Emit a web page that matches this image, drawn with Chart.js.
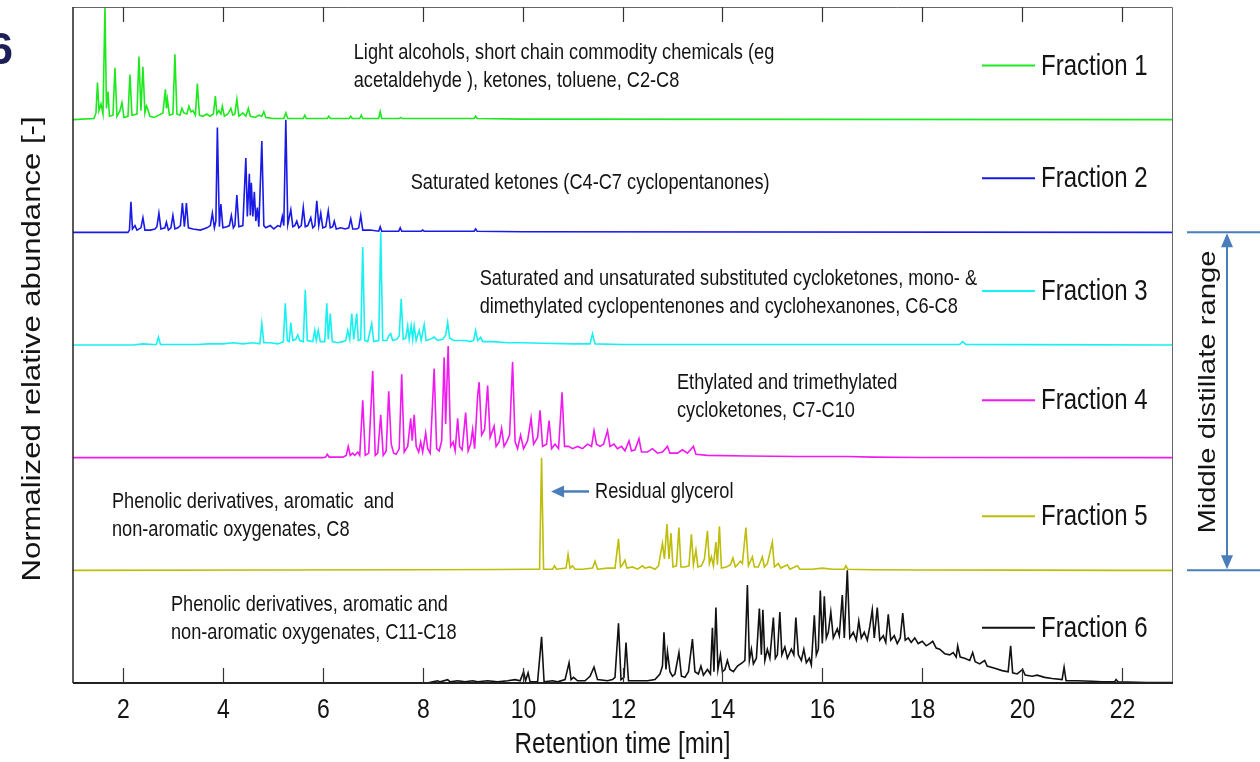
<!DOCTYPE html>
<html>
<head>
<meta charset="utf-8">
<script src="https://cdn.jsdelivr.net/npm/chart.js@4.4.1/dist/chart.umd.min.js"></script>
<style>
  html, body { margin: 0; padding: 0; background: #fff; }
  canvas { display: block; }
</style>
</head>
<body>
<canvas id="chromChart" width="1260" height="762"></canvas>
<script>
// retention time [min] / normalized abundance pairs
const fraction1 = [
  [1.0,0],[1.42,0.01],[1.46,0.06],[1.49,0.33],[1.52,0.08],[1.56,0.14],[1.60,0.05],[1.64,1.0],[1.67,0.10],[1.70,0.25],
  [1.73,0.03],[1.80,0.04],[1.84,0.46],[1.88,0.03],[1.94,0.08],[1.98,0.15],[2.02,0.02],[2.10,0.03],[2.14,0.40],[2.18,0.04],
  [2.28,0.05],[2.32,0.56],[2.36,0.08],[2.40,0.47],[2.44,0.06],[2.47,0.12],[2.50,0.09],[2.54,0.03],[2.62,0.02],[2.72,0.04],
  [2.80,0.06],[2.85,0.27],[2.87,0.10],[2.89,0.18],[2.93,0.04],[3.00,0.05],[3.04,0.58],[3.08,0.05],[3.14,0.04],[3.18,0.10],
  [3.22,0.06],[3.28,0.05],[3.32,0.12],[3.36,0.07],[3.40,0.08],[3.45,0.04],[3.49,0.32],[3.53,0.04],[3.60,0.03],[3.68,0.05],
  [3.74,0.03],[3.81,0.05],[3.85,0.21],[3.88,0.05],[3.92,0.08],[3.96,0.05],[3.99,0.12],[4.03,0.03],[4.10,0.05],[4.16,0.10],
  [4.20,0.04],[4.24,0.05],[4.28,0.18],[4.32,0.03],[4.40,0.06],[4.46,0.03],[4.51,0.10],[4.55,0.03],[4.65,0.02],[4.72,0.04],
  [4.78,0.03],[4.82,0.07],[4.86,0.02],[5.0,0.01],[5.22,0.01],[5.26,0.06],[5.30,0.01],[5.45,0.01],[5.61,0.01],[5.64,0.04],
  [5.67,0.01],[5.9,0.01],[6.09,0.01],[6.12,0.03],[6.15,0.01],[6.40,0.01],[6.53,0.01],[6.56,0.03],[6.59,0.01],[6.74,0.01],
  [6.77,0.04],[6.80,0.01],[7.12,0.01],[7.15,0.07],[7.18,0.01],[7.53,0.01],[7.56,0.02],[7.59,0.01],[8.0,0.01],[9.03,0.01],
  [9.06,0.03],[9.09,0.01],[10.0,0.005],[23.0,0]
];
const fraction2 = [
  [1.0,0],[2.10,0],[2.13,0.02],[2.16,0.27],[2.19,0.03],[2.24,0.06],[2.28,0.02],[2.36,0.04],[2.40,0.13],[2.44,0.02],
  [2.55,0.02],[2.64,0.03],[2.68,0.05],[2.72,0.17],[2.76,0.03],[2.84,0.04],[2.87,0.09],[2.91,0.02],[2.96,0.04],[3.00,0.15],
  [3.04,0.03],[3.10,0.04],[3.15,0.06],[3.19,0.26],[3.23,0.05],[3.27,0.26],[3.31,0.04],[3.40,0.03],[3.55,0.02],[3.68,0.04],
  [3.75,0.06],[3.79,0.17],[3.83,0.04],[3.86,0.10],[3.89,0.93],[3.93,0.05],[3.96,0.25],[4.00,0.04],[4.08,0.05],[4.13,0.06],
  [4.17,0.15],[4.21,0.04],[4.24,0.06],[4.28,0.33],[4.32,0.05],[4.40,0.06],[4.46,0.66],[4.49,0.14],[4.53,0.52],[4.55,0.15],
  [4.57,0.44],[4.60,0.14],[4.63,0.36],[4.66,0.10],[4.69,0.22],[4.72,0.05],[4.78,0.81],[4.82,0.06],[4.86,0.04],[4.95,0.06],
  [5.02,0.03],[5.10,0.06],[5.15,0.05],[5.19,0.14],[5.22,0.06],[5.26,1.0],[5.30,0.07],[5.36,0.20],[5.40,0.05],[5.44,0.06],
  [5.48,0.10],[5.52,0.04],[5.57,0.06],[5.61,0.22],[5.65,0.05],[5.70,0.06],[5.76,0.13],[5.80,0.04],[5.84,0.06],[5.88,0.28],
  [5.92,0.06],[5.96,0.17],[6.00,0.04],[6.06,0.05],[6.11,0.19],[6.15,0.04],[6.20,0.05],[6.23,0.10],[6.27,0.03],[6.36,0.04],
  [6.45,0.03],[6.52,0.04],[6.56,0.12],[6.60,0.03],[6.68,0.03],[6.72,0.04],[6.76,0.15],[6.80,0.02],[6.95,0.02],[7.12,0.01],
  [7.15,0.05],[7.18,0.01],[7.35,0.01],[7.52,0.01],[7.55,0.04],[7.58,0.01],[7.97,0.01],[8.0,0.02],[8.03,0.01],[9.03,0.01],
  [9.06,0.03],[9.09,0.01],[10.0,0.005],[23.0,0]
];
const fraction3 = [
  [1.0,0],[2.2,0],[2.4,0.01],[2.6,0.005],[2.67,0.005],[2.71,0.07],[2.75,0.005],[3.5,0.005],[3.7,0.01],[4.0,0.01],
  [4.2,0.02],[4.4,0.01],[4.6,0.02],[4.74,0.01],[4.78,0.19],[4.82,0.02],[4.95,0.02],[5.10,0.01],[5.21,0.03],[5.25,0.37],
  [5.29,0.04],[5.33,0.03],[5.36,0.20],[5.40,0.04],[5.46,0.05],[5.50,0.09],[5.54,0.04],[5.61,0.03],[5.65,0.49],[5.69,0.04],
  [5.80,0.03],[5.84,0.13],[5.87,0.04],[5.91,0.13],[5.95,0.03],[6.04,0.03],[6.08,0.37],[6.11,0.05],[6.15,0.28],[6.19,0.03],
  [6.30,0.02],[6.40,0.03],[6.46,0.04],[6.50,0.13],[6.54,0.05],[6.58,0.28],[6.62,0.05],[6.68,0.28],[6.71,0.04],[6.76,0.05],
  [6.80,0.87],[6.84,0.04],[6.90,0.03],[6.98,0.19],[7.02,0.03],[7.12,0.04],[7.16,1.0],[7.20,0.04],[7.28,0.04],[7.32,0.08],
  [7.36,0.10],[7.40,0.04],[7.48,0.05],[7.53,0.08],[7.57,0.41],[7.61,0.05],[7.66,0.06],[7.70,0.17],[7.73,0.05],[7.77,0.17],
  [7.80,0.05],[7.83,0.17],[7.87,0.04],[7.93,0.13],[7.97,0.04],[8.03,0.18],[8.07,0.04],[8.15,0.05],[8.23,0.07],[8.30,0.04],
  [8.40,0.05],[8.46,0.09],[8.50,0.20],[8.54,0.06],[8.62,0.04],[8.75,0.04],[8.86,0.04],[8.95,0.03],[9.02,0.04],[9.06,0.13],
  [9.10,0.04],[9.16,0.07],[9.20,0.03],[9.40,0.03],[9.7,0.02],[10.0,0.02],[10.4,0.015],[11.0,0.01],[11.35,0.01],[11.40,0.10],
  [11.45,0.01],[12.0,0.005],[15.0,0.005],[16.5,0.005],[18.75,0.005],[18.81,0.03],[18.87,0.005],[20.0,0.003],[23.0,0]
];
const fraction4 = [
  [1.0,0],[6.0,0],[6.06,0.005],[6.09,0.03],[6.13,0.005],[6.40,0.005],[6.47,0.02],[6.51,0.10],[6.55,0.02],[6.60,0.04],
  [6.64,0.02],[6.70,0.05],[6.74,0.02],[6.80,0.51],[6.85,0.02],[6.92,0.04],[7.00,0.77],[7.05,0.02],[7.10,0.04],[7.16,0.38],
  [7.21,0.02],[7.27,0.06],[7.32,0.59],[7.37,0.12],[7.42,0.04],[7.47,0.03],[7.53,0.08],[7.58,0.74],[7.63,0.05],[7.70,0.10],
  [7.76,0.35],[7.79,0.15],[7.83,0.38],[7.87,0.10],[7.92,0.05],[7.96,0.14],[8.00,0.05],[8.06,0.22],[8.10,0.08],[8.15,0.04],
  [8.23,0.79],[8.28,0.08],[8.33,0.06],[8.38,0.15],[8.43,0.89],[8.46,0.30],[8.51,0.99],[8.56,0.10],[8.61,0.14],[8.65,0.06],
  [8.70,0.35],[8.74,0.10],[8.79,0.07],[8.86,0.40],[8.91,0.06],[8.96,0.12],[9.00,0.25],[9.04,0.08],[9.10,0.55],[9.13,0.67],
  [9.18,0.20],[9.24,0.25],[9.30,0.64],[9.35,0.18],[9.43,0.28],[9.47,0.10],[9.53,0.14],[9.58,0.26],[9.63,0.10],[9.68,0.14],
  [9.74,0.20],[9.80,0.85],[9.85,0.14],[9.90,0.08],[9.96,0.20],[10.02,0.08],[10.10,0.15],[10.17,0.35],[10.22,0.12],[10.30,0.18],
  [10.35,0.42],[10.40,0.10],[10.48,0.12],[10.53,0.33],[10.58,0.08],[10.65,0.12],[10.72,0.08],[10.79,0.58],[10.84,0.10],[10.92,0.10],
  [11.00,0.08],[11.10,0.10],[11.20,0.08],[11.30,0.12],[11.38,0.10],[11.43,0.24],[11.48,0.12],[11.55,0.10],[11.62,0.12],[11.70,0.24],
  [11.75,0.10],[11.83,0.12],[11.90,0.08],[11.98,0.10],[12.05,0.06],[12.13,0.15],[12.18,0.06],[12.25,0.07],[12.33,0.17],[12.38,0.05],
  [12.50,0.05],[12.60,0.08],[12.70,0.04],[12.80,0.05],[12.90,0.10],[12.95,0.04],[13.10,0.04],[13.20,0.07],[13.30,0.04],[13.42,0.10],
  [13.47,0.03],[13.7,0.02],[14.5,0.015],[15.5,0.01],[16.5,0.01],[17.0,0.005],[18.0,0.002],[23.0,0]
];
const fraction5 = [
  [1.0,0],[5.0,0.003],[8.0,0.005],[9.5,0.008],[10.2,0.01],[10.34,0.01],[10.38,1.0],[10.42,0.01],[10.60,0.01],[10.64,0.04],
  [10.68,0.01],[10.87,0.02],[10.91,0.14],[10.95,0.02],[11.0,0.04],[11.05,0.01],[11.20,0.01],[11.40,0.02],[11.45,0.08],[11.50,0.01],
  [11.70,0.02],[11.85,0.02],[11.92,0.28],[11.96,0.03],[12.00,0.05],[12.05,0.09],[12.09,0.02],[12.20,0.03],[12.30,0.01],[12.40,0.04],
  [12.45,0.02],[12.55,0.03],[12.65,0.01],[12.72,0.04],[12.80,0.24],[12.84,0.10],[12.89,0.41],[12.93,0.10],[12.97,0.33],[13.01,0.03],
  [13.08,0.04],[13.13,0.38],[13.17,0.03],[13.25,0.03],[13.33,0.04],[13.38,0.32],[13.42,0.05],[13.47,0.18],[13.51,0.03],[13.58,0.04],
  [13.64,0.10],[13.70,0.35],[13.74,0.06],[13.78,0.12],[13.82,0.04],[13.87,0.25],[13.90,0.05],[13.94,0.39],[13.98,0.02],[14.08,0.03],
  [14.16,0.05],[14.21,0.11],[14.26,0.03],[14.36,0.08],[14.40,0.06],[14.47,0.38],[14.52,0.04],[14.60,0.12],[14.64,0.03],[14.72,0.03],
  [14.80,0.12],[14.84,0.03],[14.90,0.06],[15.00,0.25],[15.04,0.03],[15.12,0.06],[15.17,0.02],[15.30,0.05],[15.35,0.01],[15.50,0.04],
  [15.55,0.01],[15.8,0.01],[16.0,0.02],[16.2,0.01],[16.44,0.01],[16.47,0.04],[16.51,0.01],[17.0,0.005],[18.0,0.003],[20.0,0.002],
  [22.0,0],[23.0,0]
];
const fraction6 = [
  [1.0,0],[8.1,0],[8.2,0.01],[8.3,0.02],[8.35,0.01],[8.5,0.03],[8.55,0.01],[8.7,0.02],[8.85,0.01],[9.0,0.02],
  [9.1,0.01],[9.3,0.02],[9.5,0.01],[9.7,0.02],[9.85,0.03],[9.95,0.02],[10.02,0.10],[10.06,0.02],[10.11,0.09],[10.15,0.01],
  [10.30,0.01],[10.38,0.41],[10.43,0.01],[10.60,0.02],[10.70,0.01],[10.85,0.03],[10.93,0.18],[10.97,0.03],[11.02,0.05],[11.10,0.02],
  [11.25,0.02],[11.35,0.06],[11.43,0.14],[11.50,0.03],[11.70,0.02],[11.80,0.03],[11.85,0.05],[11.92,0.53],[11.97,0.03],[12.03,0.05],
  [12.07,0.36],[12.12,0.02],[12.30,0.02],[12.50,0.02],[12.65,0.03],[12.75,0.08],[12.80,0.15],[12.83,0.45],[12.87,0.12],[12.90,0.28],
  [12.95,0.10],[13.00,0.06],[13.05,0.08],[13.13,0.27],[13.18,0.06],[13.25,0.05],[13.32,0.10],[13.40,0.39],[13.45,0.10],[13.52,0.08],
  [13.57,0.15],[13.62,0.07],[13.70,0.12],[13.76,0.08],[13.80,0.49],[13.83,0.10],[13.87,0.67],[13.91,0.12],[13.96,0.25],[14.00,0.10],
  [14.05,0.12],[14.10,0.20],[14.15,0.12],[14.22,0.10],[14.30,0.15],[14.40,0.18],[14.45,0.20],[14.50,0.87],[14.54,0.20],[14.58,0.30],
  [14.62,0.17],[14.68,0.22],[14.74,0.66],[14.78,0.25],[14.81,0.65],[14.85,0.20],[14.90,0.30],[14.95,0.22],[15.02,0.58],[15.06,0.22],
  [15.10,0.25],[15.15,0.63],[15.19,0.25],[15.25,0.32],[15.30,0.22],[15.38,0.30],[15.43,0.25],[15.47,0.58],[15.52,0.25],[15.58,0.20],
  [15.63,0.30],[15.68,0.18],[15.74,0.22],[15.78,0.16],[15.84,0.60],[15.88,0.25],[15.92,0.30],[15.96,0.82],[16.00,0.35],[16.04,0.77],
  [16.08,0.40],[16.12,0.45],[16.17,0.63],[16.22,0.40],[16.30,0.48],[16.34,0.42],[16.40,0.78],[16.44,0.40],[16.50,1.0],[16.55,0.40],
  [16.62,0.45],[16.68,0.38],[16.73,0.55],[16.78,0.40],[16.84,0.45],[16.90,0.38],[16.95,0.50],[17.00,0.65],[17.04,0.40],[17.10,0.67],
  [17.15,0.38],[17.22,0.42],[17.27,0.36],[17.32,0.61],[17.37,0.38],[17.44,0.42],[17.50,0.35],[17.56,0.40],[17.61,0.62],[17.66,0.38],
  [17.72,0.40],[17.78,0.36],[17.85,0.40],[17.92,0.35],[18.0,0.37],[18.08,0.33],[18.15,0.35],[18.21,0.37],[18.28,0.31],[18.35,0.30],
  [18.45,0.26],[18.55,0.25],[18.62,0.27],[18.68,0.23],[18.71,0.33],[18.76,0.23],[18.85,0.22],[18.95,0.20],[19.01,0.27],[19.06,0.19],
  [19.15,0.17],[19.25,0.20],[19.30,0.15],[19.45,0.13],[19.60,0.11],[19.72,0.10],[19.77,0.33],[19.81,0.09],[19.90,0.08],[20.01,0.12],
  [20.06,0.07],[20.20,0.06],[20.30,0.07],[20.45,0.05],[20.60,0.04],[20.80,0.03],[20.84,0.14],[20.88,0.02],[21.1,0.02],[21.4,0.015],
  [21.6,0.01],[21.85,0.01],[21.88,0.03],[21.92,0.01],[22.5,0.005],[23.0,0.005]
];

const fractions = [fraction1, fraction2, fraction3, fraction4, fraction5, fraction6];
const fractionNames = ['Fraction 1', 'Fraction 2', 'Fraction 3', 'Fraction 4', 'Fraction 5', 'Fraction 6'];
const xTickValues = [2, 4, 6, 8, 10, 12, 14, 16, 18, 20, 22];

const fractionColors = ['#1ee81e', '#1a1ae6', '#19f0f0', '#f019f0', '#bdbd0a', '#111111'];
const legendLift = [0.48, 0.48, 0.48, 0.51, 0.48, 0.49];
const SANS = "'Liberation Sans', Arial, sans-serif";
const INK = '#141414';
const ARROW_BLUE = '#4a7ebb';
const TALL = 1.22; // the figure's lettering is drawn taller than wide

// x in minutes, y in stacked-band units (first text line centre)
const notes = [
  { x: 6.62, y: 5.59, lines: ['Light alcohols, short chain commodity chemicals (eg', 'acetaldehyde ), ketones, toluene, C2-C8'] },
  { x: 7.76, y: 4.44, lines: ['Saturated ketones (C4-C7 cyclopentanones)'] },
  { x: 9.14, y: 3.59, lines: ['Saturated and unsaturated substituted cycloketones, mono- &', 'dimethylated cyclopentenones and cyclohexanones, C6-C8'] },
  { x: 13.09, y: 2.66, lines: ['Ethylated and trimethylated', 'cycloketones, C7-C10'] },
  { x: 1.78, y: 1.61, lines: ['Phenolic derivatives, aromatic  and', 'non-aromatic oxygenates, C8'] },
  { x: 11.45, y: 1.70, lines: ['Residual glycerol'] },
  { x: 2.96, y: 0.69, lines: ['Phenolic derivatives, aromatic and', 'non-aromatic oxygenates, C11-C18'] }
];

// horizontal text, stretched vertically around its centre line
function tallText(ctx, text, px, py, size, align) {
  ctx.save();
  ctx.translate(px, py);
  ctx.scale(1, TALL);
  ctx.font = size + 'px ' + SANS;
  ctx.fillStyle = INK;
  ctx.textAlign = align || 'left';
  ctx.textBaseline = 'middle';
  ctx.fillText(text, 0, 0);
  ctx.restore();
}

// vertical text, stretched along its length
function upText(ctx, text, cx, cy, size) {
  ctx.save();
  ctx.translate(cx, cy);
  ctx.rotate(-Math.PI / 2);
  ctx.scale(TALL, 1);
  ctx.font = size + 'px ' + SANS;
  ctx.fillStyle = INK;
  ctx.textAlign = 'center';
  ctx.textBaseline = 'middle';
  ctx.fillText(text, 0, 0);
  ctx.restore();
}

function arrowHead(ctx, tipX, tipY, dirX, dirY, len, half) {
  const bx = tipX - dirX * len, by = tipY - dirY * len;
  ctx.beginPath();
  ctx.moveTo(tipX, tipY);
  ctx.lineTo(bx - dirY * half, by + dirX * half);
  ctx.lineTo(bx + dirY * half, by - dirX * half);
  ctx.closePath();
  ctx.fill();
}

const overlayPlugin = {
  id: 'overlay',
  afterDatasetsDraw(chart) {
    const { ctx, chartArea: a, scales: { x, y } } = chart;
    ctx.save();

    // frame
    ctx.strokeStyle = '#666';
    ctx.lineWidth = 1;
    ctx.beginPath();
    ctx.moveTo(a.left, a.top + 0.5);
    ctx.lineTo(a.right + 0.5, a.top + 0.5);
    ctx.lineTo(a.right + 0.5, a.bottom);
    ctx.stroke();
    ctx.strokeStyle = '#222';
    ctx.lineWidth = 1.5;
    ctx.beginPath();
    ctx.moveTo(a.left, a.top);
    ctx.lineTo(a.left, a.bottom);
    ctx.stroke();
    ctx.lineWidth = 2.2;
    ctx.beginPath();
    ctx.moveTo(a.left, a.bottom);
    ctx.lineTo(a.right + 1, a.bottom);
    ctx.stroke();

    // inward ticks on top and bottom, labels below
    ctx.strokeStyle = '#333';
    ctx.lineWidth = 1.2;
    xTickValues.forEach(v => {
      const px = Math.round(x.getPixelForValue(v)) + 0.5;
      ctx.beginPath();
      ctx.moveTo(px, a.top);
      ctx.lineTo(px, a.top + 15);
      ctx.moveTo(px, a.bottom);
      ctx.lineTo(px, a.bottom - 15);
      ctx.stroke();
      tallText(ctx, String(v), px, a.bottom + 27, 23, 'center');
    });
    tallText(ctx, 'Retention time [min]', x.getPixelForValue(12), a.bottom + 62, 24.3, 'center');

    // per-band legend entries
    fractionNames.forEach((name, i) => {
      const py = y.getPixelForValue(5 - i + legendLift[i]);
      ctx.strokeStyle = fractionColors[i];
      ctx.lineWidth = 2;
      ctx.beginPath();
      ctx.moveTo(a.right - 190, py);
      ctx.lineTo(a.right - 137, py);
      ctx.stroke();
      tallText(ctx, name, a.right - 131, py + 1, 24);
    });

    // annotations
    notes.forEach(n => {
      const px = x.getPixelForValue(n.x);
      const py = y.getPixelForValue(n.y);
      n.lines.forEach((line, k) => tallText(ctx, line, px, py + k * 28, 18.2));
    });

    // arrow to the glycerol peak
    const gy = y.getPixelForValue(1.70);
    ctx.strokeStyle = ARROW_BLUE;
    ctx.fillStyle = ARROW_BLUE;
    ctx.lineWidth = 2.5;
    ctx.beginPath();
    ctx.moveTo(x.getPixelForValue(11.33), gy);
    ctx.lineTo(x.getPixelForValue(10.57) + 10, gy);
    ctx.stroke();
    arrowHead(ctx, x.getPixelForValue(10.57), gy, -1, 0, 13, 6);

    // middle distillate bracket (outside plot)
    const yTop = y.getPixelForValue(4);
    const yBot = y.getPixelForValue(1);
    ctx.lineWidth = 2;
    ctx.beginPath();
    ctx.moveTo(a.right + 15, yTop);
    ctx.lineTo(1260, yTop);
    ctx.moveTo(a.right + 15, yBot);
    ctx.lineTo(1260, yBot);
    ctx.moveTo(1227, yTop + 12);
    ctx.lineTo(1227, yBot - 12);
    ctx.stroke();
    arrowHead(ctx, 1227, yTop + 1, 0, -1, 14, 6);
    arrowHead(ctx, 1227, yBot - 1, 0, 1, 14, 6);
    ctx.restore();

    upText(ctx, 'Middle distillate range', 1208, 392, 24);
    upText(ctx, 'Normalized relative abundance [-]', 33, 349, 25.5);

    // panel letter cut by the page edge
    ctx.save();
    ctx.font = 'bold 44px ' + SANS;
    ctx.fillStyle = '#1c2057';
    ctx.textAlign = 'right';
    ctx.textBaseline = 'alphabetic';
    ctx.fillText('6', 13, 64);
    ctx.restore();
  }
};

const ctx = document.getElementById('chromChart').getContext('2d');
const chart = new Chart(ctx, {
  type: 'line',
  data: {
    datasets: fractions.map((trace, i) => ({
      label: fractionNames[i],
      data: trace.map(p => ({ x: p[0], y: p[1] + (5 - i) })),
      borderColor: fractionColors[i],
      borderWidth: 1.6,
      pointRadius: 0,
      tension: 0,
      fill: false
    }))
  },
  options: {
    responsive: false,
    animation: false,
    layout: { padding: { left: 73, right: 88, top: 7, bottom: 79 } },
    plugins: {
      legend: { display: false },
      tooltip: { enabled: false }
    },
    scales: {
      x: { type: 'linear', display: false, min: 1, max: 23 },
      y: { type: 'linear', display: false, min: 0, max: 6 }
    }
  },
  plugins: [overlayPlugin]
});
</script>
</body>
</html>
